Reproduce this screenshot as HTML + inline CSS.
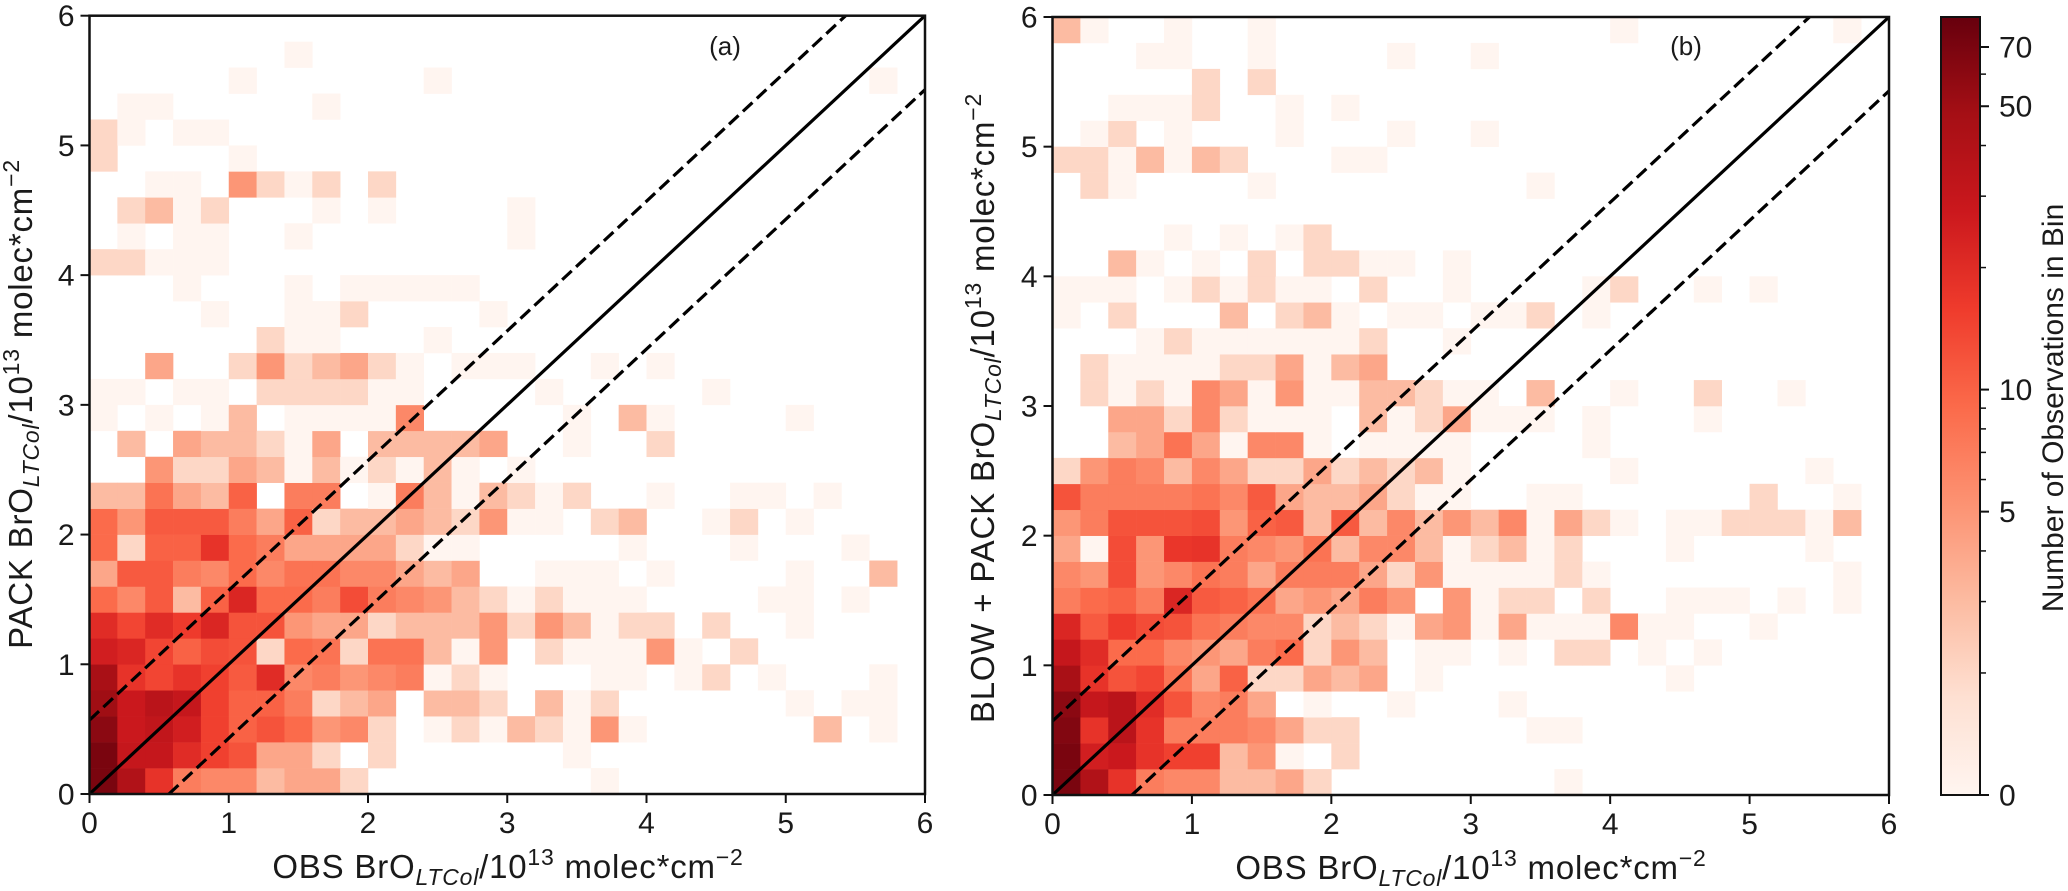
<!DOCTYPE html>
<html lang="en">
<head>
<meta charset="utf-8">
<title>BrO column 2D histograms</title>
<style>
html,body{margin:0;padding:0;background:#fff;}
svg{display:block;}
text{font-family:"Liberation Sans",Arial,sans-serif;fill:#1a1a1a;}
.axis-title{letter-spacing:0.8px;}
</style>
</head>
<body>
<svg id="chart" xmlns="http://www.w3.org/2000/svg" width="2068" height="891" viewBox="0 0 2068 891">
  <defs>
    <clipPath id="clip-a"><rect x="89.5" y="15.7" width="835.5" height="778.3"/></clipPath>
    <clipPath id="clip-b"><rect x="1052.5" y="17" width="836.5" height="778"/></clipPath>
    <linearGradient id="reds-gradient" x1="0" y1="1" x2="0" y2="0"></linearGradient>
  </defs>
  <g id="panel-a"></g>
  <g id="panel-b"></g>
  <g id="colorbar"></g>

  <text x="725" y="55" font-size="26" text-anchor="middle">(a)</text>
  <text x="1686" y="55" font-size="26" text-anchor="middle">(b)</text>

  <text class="axis-title" x="508" y="878" font-size="33" text-anchor="middle">OBS BrO<tspan font-size="23" font-style="italic" dy="7">LTCol</tspan><tspan dy="-7">/10</tspan><tspan font-size="23" dy="-13">13</tspan><tspan dy="13"> molec*cm</tspan><tspan font-size="23" dy="-13">−2</tspan></text>
  <text class="axis-title" x="1471" y="879" font-size="33" text-anchor="middle">OBS BrO<tspan font-size="23" font-style="italic" dy="7">LTCol</tspan><tspan dy="-7">/10</tspan><tspan font-size="23" dy="-13">13</tspan><tspan dy="13"> molec*cm</tspan><tspan font-size="23" dy="-13">−2</tspan></text>
  <text class="axis-title" transform="translate(32,404) rotate(-90)" font-size="33" text-anchor="middle">PACK BrO<tspan font-size="23" font-style="italic" dy="7">LTCol</tspan><tspan dy="-7">/10</tspan><tspan font-size="23" dy="-13">13</tspan><tspan dy="13"> molec*cm</tspan><tspan font-size="23" dy="-13">−2</tspan></text>
  <text class="axis-title" transform="translate(994,408) rotate(-90)" font-size="33" text-anchor="middle">BLOW + PACK BrO<tspan font-size="23" font-style="italic" dy="7">LTCol</tspan><tspan dy="-7">/10</tspan><tspan font-size="23" dy="-13">13</tspan><tspan dy="13"> molec*cm</tspan><tspan font-size="23" dy="-13">−2</tspan></text>
  <text transform="translate(2063,408) rotate(-90)" font-size="30" text-anchor="middle">Number of Observations in Bin</text>
</svg>
<script>
// Observation counts per bin, index 0 = lowest y bin (0-0.2); each row runs left to right in x.
const countsA = [
  [70,40,18,7,6,6,3,4,4,2,0,0,0,0,0,0,0,0,1],
  [70,30,30,20,15,12,4,4,2,0,2,0,0,0,0,0,0,1],
  [60,28,32,25,15,10,12,9,5,6,2,0,1,2,1,3,2,1,5,1,0,0,0,0,0,0,3,0,1],
  [50,28,35,30,15,10,10,7,2,3,4,0,3,3,2,0,3,1,2,0,0,0,0,0,0,1,0,1,1],
  [45,18,14,18,15,11,20,6,7,5,6,7,1,2,1,0,0,0,1,1,0,1,2,0,1,0,0,0,1],
  [25,22,14,10,13,12,2,9,8,2,8,8,3,1,5,0,2,1,1,1,5,1,0,2],
  [20,14,20,16,22,12,12,5,4,4,2,3,3,3,5,2,5,3,1,2,2,0,2,0,0,1],
  [9,6,11,3,10,22,9,9,7,13,7,6,5,3,2,1,2,1,1,1,0,0,0,0,1,1,0,1],
  [4,11,11,7,6,9,6,8,8,6,6,4,3,4,0,0,1,1,1,0,1,0,0,0,0,1,0,0,3],
  [9,2,10,10,18,9,7,4,4,4,4,2,1,1,0,0,0,0,0,1,0,0,0,1,0,0,0,1],
  [9,5,11,11,11,7,4,10,2,3,3,4,3,2,5,1,1,0,2,3,0,0,1,2,0,1],
  [3,3,8,4,3,10,0,7,7,0,1,7,3,1,3,2,1,2,0,0,1,0,0,1,1,0,1],
  [0,0,5,2,2,4,3,1,3,1,2,1,3,1,0,1],
  [0,3,0,4,3,3,2,1,4,0,3,3,3,3,4,0,0,1,0,0,2],
  [1,0,1,0,1,3,0,1,1,1,1,6,0,0,0,0,0,1,0,3,1,0,0,0,0,1],
  [1,1,0,1,1,0,2,2,2,2,1,1,0,0,0,0,1,0,0,0,0,0,1],
  [0,0,4,0,0,2,5,2,3,4,2,1,0,1,1,1,0,0,1,0,1],
  [0,0,0,0,0,0,2,1,1,0,0,0,1],
  [0,0,0,0,1,0,0,1,1,2,0,0,0,0,1],
  [0,0,0,1,0,0,0,1,0,1,1,1,1,1],
  [2,2,1,1,1],
  [0,1,0,1,1,0,0,1,0,0,0,0,0,0,0,1],
  [0,2,3,1,2,0,0,0,1,0,1,0,0,0,0,1],
  [0,0,1,1,0,5,2,1,2,0,2],
  [2,0,0,0,0,1],
  [2,1,0,1,1],
  [0,1,1,0,0,0,0,0,1],
  [0,0,0,0,0,1,0,0,0,0,0,0,1,0,0,0,0,0,0,0,0,0,0,0,0,0,0,0,1],
  [0,0,0,0,0,0,0,1],
  []
];
const countsB = [
  [70,40,18,7,6,6,3,3,4,2,0,0,0,0,0,0,0,0,1],
  [70,25,28,18,15,15,3,5,1,0,2],
  [65,18,35,18,7,7,7,6,4,2,2,0,0,0,0,0,0,1,1],
  [60,30,35,20,12,6,7,4,0,1,0,0,1,0,0,0,1],
  [45,18,12,14,8,4,10,2,2,4,3,4,0,1,0,0,0,0,0,0,0,0,1],
  [30,20,9,9,6,5,4,7,9,2,5,3,0,1,1,0,1,0,2,2,0,1,0,1],
  [22,11,16,13,12,8,7,6,6,2,3,2,1,4,5,1,4,1,1,1,6,1,1,0,0,1],
  [7,9,10,7,22,11,10,8,4,5,4,7,5,0,5,1,2,2,0,2,0,0,1,1,1,0,1,0,1],
  [6,5,13,5,6,8,7,4,7,7,7,4,2,5,1,1,1,1,2,1,0,0,0,0,0,0,0,0,1],
  [4,1,13,5,17,18,7,6,5,8,3,6,6,3,1,2,3,1,2,0,0,0,1,0,0,0,0,1],
  [5,7,12,12,12,13,5,10,11,3,11,3,6,3,5,3,6,1,4,2,1,0,1,1,2,2,2,1,3],
  [12,7,7,7,7,8,6,11,4,3,3,4,2,1,1,0,0,1,1,0,0,0,0,0,0,2,0,0,1],
  [2,5,7,6,3,6,4,2,2,4,2,3,2,3,1,0,0,0,0,0,1,0,0,0,0,0,0,1],
  [0,0,3,4,8,4,1,6,6,1,0,1,1,1,1,0,0,0,0,1],
  [0,0,4,4,2,6,2,1,1,1,0,3,1,2,4,1,1,1,0,1,0,0,0,1],
  [0,2,1,2,1,6,4,1,5,1,1,3,3,2,1,1,0,3,0,0,1,0,0,2,0,0,1],
  [0,2,1,1,1,1,2,2,4,1,3,4],
  [0,0,0,1,2,1,1,1,1,1,1,2,0,0,1],
  [1,0,2,0,0,0,3,0,2,3,1,0,1,1,0,1,1,2,0,1],
  [1,1,1,0,1,2,1,2,1,1,0,2,0,0,1,0,0,0,0,1,2,0,0,1,0,1],
  [0,0,3,1,0,1,0,2,0,2,2,1,1,0,1],
  [0,0,0,0,1,0,1,0,1,2],
  [],
  [0,2,1,0,0,0,0,1,0,0,0,0,0,0,0,0,0,1],
  [2,2,1,3,1,3,2,0,0,0,1,1],
  [0,1,2,0,1,0,0,0,1,0,0,0,1,0,0,1],
  [0,0,1,1,1,2,0,0,1,0,1],
  [0,0,0,0,0,2,0,2],
  [0,0,0,1,1,0,0,1,0,0,0,0,1,0,0,1],
  [3,1,0,0,1,0,0,1,0,0,0,0,0,0,0,0,0,0,0,0,1,0,0,0,0,0,0,0,1]
];
const tickValues = [0,1,2,3,4,5,6];
const tickLabels = ['0','1','2','3','4','5','6'];
const cbMajorValues = [1,5,10,50,70];
const cbMajorLabels = ['0','5','10','50','70'];
const cbMinorValues = [2,3,4,6,7,8,9,20,30,40,60];
const colorStops = ['#fff5f0','#fee0d2','#fcbba1','#fc9272','#fb6a4a','#ef3b2c','#cb181d','#a50f15','#67000d'];
const normMax = 83;
const binWidth = 0.2;
const axisMax = 6;
const bandOffset = 0.57;

const NS = 'http://www.w3.org/2000/svg';
function node(tag, attrs, parent){
  const el = document.createElementNS(NS, tag);
  for (const k in attrs) el.setAttribute(k, attrs[k]);
  parent.appendChild(el);
  return el;
}
function hexToRgb(h){ return [1,3,5].map(i => parseInt(h.substr(i,2),16)); }
function norm(n){ return Math.log(n)/Math.log(normMax); }
function reds(t){
  const p = Math.max(0,Math.min(1,t))*(colorStops.length-1);
  const i = Math.min(Math.floor(p), colorStops.length-2);
  const a = hexToRgb(colorStops[i]), b = hexToRgb(colorStops[i+1]);
  const f = p-i;
  return 'rgb('+a.map((v,j)=>Math.round(v+(b[j]-v)*f)).join(',')+')';
}

function drawPanel(groupId, counts, box, clipId){
  const g = document.getElementById(groupId);
  const xs = v => box.left + (box.right-box.left)*v/axisMax;
  const ys = v => box.bottom - (box.bottom-box.top)*v/axisMax;
  counts.forEach((row, r) => {
    row.forEach((n, c) => {
      if (!n) return;
      const x0 = xs(c*binWidth), x1 = xs((c+1)*binWidth);
      const y1 = ys(r*binWidth), y0 = ys((r+1)*binWidth);
      const cell = node('rect', {x:x0, y:y0, width:x1-x0+0.3, height:y1-y0+0.3, fill:reds(norm(n))}, g);
      
      
    });
  });
  const lines = node('g', {'clip-path':'url(#'+clipId+')'}, g);
  const solid = node('line', {x1:xs(0), y1:ys(0), x2:xs(axisMax), y2:ys(axisMax), stroke:'#000', 'stroke-width':3.2}, lines);
  
  
  const upper = node('line', {x1:xs(0), y1:ys(bandOffset), x2:xs(axisMax-bandOffset), y2:ys(axisMax), stroke:'#000', 'stroke-width':3.2, 'stroke-dasharray':'13 6'}, lines);
  
  
  const lower = node('line', {x1:xs(bandOffset), y1:ys(0), x2:xs(axisMax), y2:ys(axisMax-bandOffset), stroke:'#000', 'stroke-width':3.2, 'stroke-dasharray':'13 6'}, lines);
  
  
  const frame = node('rect', {x:box.left, y:box.top, width:box.right-box.left, height:box.bottom-box.top, fill:'none', stroke:'#111', 'stroke-width':2.5}, g);
  
  
  tickValues.forEach((v, i) => {
    const xt = node('line', {x1:xs(v), x2:xs(v), y1:box.bottom, y2:box.bottom+9, stroke:'#111', 'stroke-width':2}, g);
    
    
    const xl = node('text', {x:xs(v), y:box.bottom+39, 'font-size':30, 'text-anchor':'middle'}, g);
    
    
    xl.textContent = tickLabels[i];
    const yt = node('line', {x1:box.left-9, x2:box.left, y1:ys(v), y2:ys(v), stroke:'#111', 'stroke-width':2}, g);
    
    
    const yl = node('text', {x:box.left-15, y:ys(v)+10.5, 'font-size':30, 'text-anchor':'end'}, g);
    
    
    yl.textContent = tickLabels[i];
  });
}

drawPanel('panel-a', countsA, {left:89.5, right:925, top:15.7, bottom:794}, 'clip-a');
drawPanel('panel-b', countsB, {left:1052.5, right:1889, top:17, bottom:795}, 'clip-b');

(function drawColorbar(){
  const g = document.getElementById('colorbar');
  const grad = document.getElementById('reds-gradient');
  colorStops.forEach((c, i) => {
    node('stop', {offset:i/(colorStops.length-1), 'stop-color':c}, grad);
  });
  const box = {left:1941, right:1980, top:17, bottom:795};
  const ys = n => box.bottom - (box.bottom-box.top)*norm(n);
  const bar = node('rect', {x:box.left, y:box.top, width:box.right-box.left, height:box.bottom-box.top, fill:'url(#reds-gradient)', stroke:'#111', 'stroke-width':2}, g);
  
  
  cbMinorValues.forEach(n => {
    const t = node('line', {x1:box.right, x2:box.right+6, y1:ys(n), y2:ys(n), stroke:'#111', 'stroke-width':1.5}, g);
    
    
  });
  cbMajorValues.forEach((n, i) => {
    const t = node('line', {x1:box.right, x2:box.right+9, y1:ys(n), y2:ys(n), stroke:'#111', 'stroke-width':2}, g);
    
    
    const l = node('text', {x:box.right+19, y:ys(n)+10.5, 'font-size':30}, g);
    
    
    l.textContent = cbMajorLabels[i];
  });
})();
</script>
</body>
</html>
